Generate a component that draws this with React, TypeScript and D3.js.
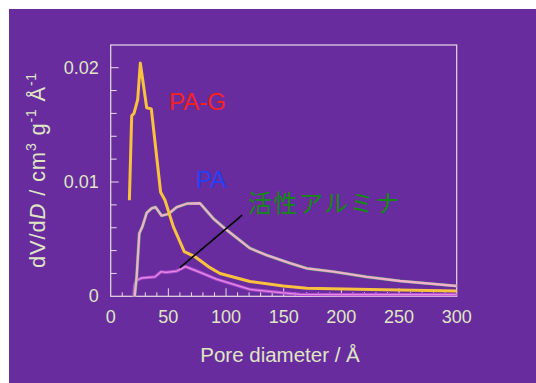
import React, { useEffect, useRef } from "react";
import * as d3 from "d3";

// pore diameter (Å) / dV/dD values
const paG: [number, number][] = [
  [16.2, 0.0084], [18.2, 0.0158], [20.2, 0.016], [23.4, 0.0172], [25.7, 0.0204],
  [31.2, 0.0165], [35.2, 0.0164], [43.3, 0.0091], [47.1, 0.0084], [54.3, 0.0061],
  [63.8, 0.0039], [72.5, 0.0035], [84.6, 0.0026], [94.8, 0.002], [120.8, 0.0013],
  [149.7, 0.0009], [170, 0.0007], [225, 0.0006], [300, 0.00046],
];
const pa: [number, number][] = [
  [20.8, 0.0], [22.5, 0.0017], [24.8, 0.0055], [27.5, 0.0061], [31.2, 0.0073],
  [35.5, 0.0077], [38.9, 0.0078], [44.2, 0.00705], [50, 0.0072], [57.2, 0.0078],
  [65.9, 0.0081], [77.4, 0.00814], [89, 0.0068], [100.6, 0.0058], [120.8, 0.0042],
  [135.2, 0.0036], [155.4, 0.0029], [169.9, 0.00245], [193, 0.00215], [222, 0.0017],
  [250.8, 0.00134], [300, 0.0009],
];
const alumina: [number, number][] = [
  [20, 0.0], [20.8, 0.001], [22.5, 0.0014], [26.9, 0.0016], [38.4, 0.0017],
  [43.6, 0.00215], [48, 0.0021], [57.2, 0.0022], [64.8, 0.0026], [77.4, 0.0021],
  [91.8, 0.0015], [120.8, 0.0006], [149.7, 0.0003], [164, 0.00017], [200, 0.00015],
  [300, 0.00015],
];
const pointer: [number, number][] = [[60, 0.0025], [114, 0.0071]];
const xTickLabels = [0, 50, 100, 150, 200, 250, 300];
const yTickLabels = [0, 0.01, 0.02];

const W = 536;
const H = 383;
const m = { left: 110.7, right: 456.7, top: 45, bottom: 296.3 };

export default function App() {
  const ref = useRef<SVGSVGElement>(null);

  useEffect(() => {
    const svg = d3.select(ref.current);
    svg.selectAll("*").remove();
    const font = "Liberation Sans, Arial, sans-serif";
    const txt = "#dfe6c4";

    svg.append("rect").attr("width", W).attr("height", H).attr("fill", "#fff");
    svg.append("rect").attr("x", 9).attr("y", 9).attr("width", W - 9).attr("height", H - 9).attr("fill", "#692c9f");

    const x = d3.scaleLinear().domain([0, 300]).range([m.left, m.right]);
    const y = d3.scaleLinear().domain([0, 0.01]).range([m.bottom, m.bottom - 114.3]);

    // frame
    svg.append("rect")
      .attr("x", m.left).attr("y", m.top)
      .attr("width", m.right - m.left).attr("height", m.bottom - m.top)
      .attr("fill", "none").attr("stroke", "#e6dce6").attr("stroke-width", 1.2);

    // ticks (inward)
    const g = svg.append("g").attr("stroke", "#e6dce6").attr("stroke-width", 1);
    d3.range(10, 300, 10).forEach((v) => {
      const len = v % 50 === 0 ? 8 : 4;
      g.append("line").attr("x1", x(v)).attr("x2", x(v)).attr("y1", m.bottom).attr("y2", m.bottom - len);
    });
    d3.range(1, 11).forEach((i) => {
      const len = i % 5 === 0 ? 8 : 6;
      const v = i * 0.002;
      g.append("line").attr("x1", m.left).attr("x2", m.left + len).attr("y1", y(v)).attr("y2", y(v));
    });

    svg.append("g").selectAll("text").data(xTickLabels).join("text")
      .attr("x", (d) => x(d)).attr("y", m.bottom + 27)
      .attr("text-anchor", "middle").attr("font-family", font).attr("font-size", 18)
      .attr("fill", txt).text((d) => String(d));
    svg.append("g").selectAll("text").data(yTickLabels).join("text")
      .attr("x", m.left - 12).attr("y", (d) => y(d) + 6)
      .attr("text-anchor", "end").attr("font-family", font).attr("font-size", 18)
      .attr("fill", txt).text((d) => (d === 0 ? "0" : String(d)));

    // axis titles
    svg.append("text").attr("x", 280).attr("y", 362).attr("text-anchor", "middle")
      .attr("font-family", font).attr("font-size", 20.5).attr("fill", txt)
      .text("Pore diameter / Å");
    const yt = svg.append("text").attr("transform", "translate(45,170) rotate(-90)")
      .attr("text-anchor", "middle").attr("font-family", font).attr("font-size", 22)
      .attr("letter-spacing", 0.8).attr("fill", txt);
    yt.append("tspan").text("dV/d");
    yt.append("tspan").attr("font-style", "italic").text("D");
    yt.append("tspan").text(" / cm");
    yt.append("tspan").attr("font-size", 14).attr("dy", -9).text("3");
    yt.append("tspan").attr("dy", 9).text(" g");
    yt.append("tspan").attr("font-size", 14).attr("dy", -9).text("-1");
    yt.append("tspan").attr("dy", 9).text(" Å");
    yt.append("tspan").attr("font-size", 14).attr("dy", -9).text("-1");

    const line = d3.line<[number, number]>().x((d) => x(d[0])).y((d) => y(d[1]));

    svg.append("path").datum(alumina).attr("d", line).attr("fill", "none")
      .attr("stroke", "#b24fd2").attr("stroke-width", 3.2).attr("stroke-linejoin", "round");
    svg.append("path").datum(alumina).attr("d", line).attr("fill", "none")
      .attr("stroke", "#e58ae0").attr("stroke-width", 1.3).attr("stroke-linejoin", "round");

    svg.append("path").datum(pa).attr("d", line).attr("fill", "none")
      .attr("stroke", "#4c9a6c").attr("stroke-width", 3.2).attr("stroke-linejoin", "round");
    svg.append("path").datum(pa).attr("d", line).attr("fill", "none")
      .attr("stroke", "#f2b0cc").attr("stroke-width", 2.3).attr("stroke-linejoin", "round");

    svg.append("path").datum(paG).attr("d", line).attr("fill", "none")
      .attr("stroke", "#f8c23e").attr("stroke-width", 3).attr("stroke-linejoin", "round");

    svg.append("path").datum(pointer).attr("d", line).attr("fill", "none")
      .attr("stroke", "#000").attr("stroke-width", 1.6);

    svg.append("text").attr("x", 169).attr("y", 110).attr("font-family", font)
      .attr("font-size", 24).attr("fill", "#f5231f").text("PA-G");
    svg.append("text").attr("x", 196).attr("y", 188).attr("font-family", font)
      .attr("font-size", 24).attr("fill", "#2340f5").text("PA");
    svg.append("text").attr("x", 248).attr("y", 212).attr("font-family", "Noto Sans CJK JP, sans-serif")
      .attr("font-size", 24).attr("letter-spacing", 1.5).attr("fill", "#138a13").text("活性アルミナ");
  }, []);

  return (
    <svg ref={ref} width={W} height={H}
      style={{ position: "absolute", left: 0, top: 0, display: "block" }} />
  );
}
